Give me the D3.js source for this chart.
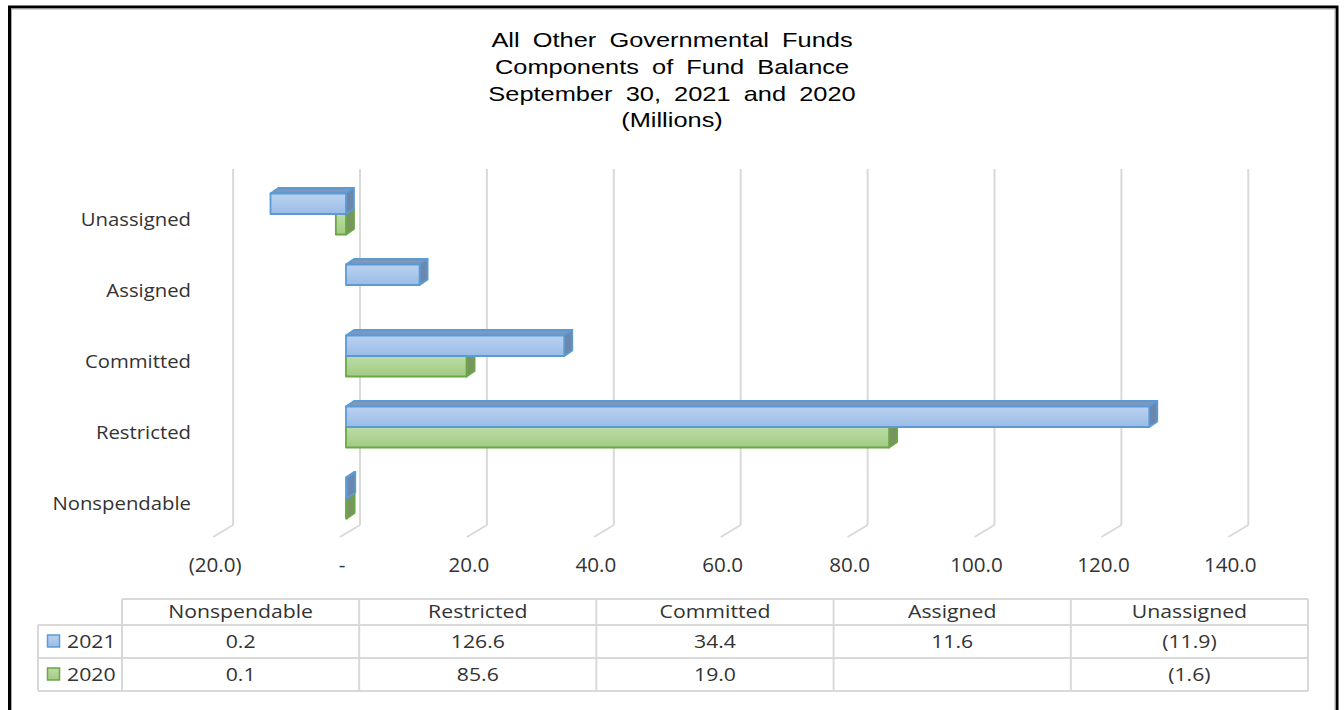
<!DOCTYPE html>
<html><head><meta charset="utf-8">
<script src="https://cdn.jsdelivr.net/npm/d3@7"></script>
<style>body{margin:0;background:#fff} svg{display:block}</style>
</head><body><svg id="c" width="1344" height="710"></svg>
<script>
const titleLines = ["All Other Governmental Funds","Components of Fund Balance","September 30, 2021 and 2020","(Millions)"];
const categories = ["Nonspendable","Restricted","Committed","Assigned","Unassigned"];
const seriesNames = ["2021","2020"];
const values2021 = [0.2,126.6,34.4,11.6,-11.9];
const values2020 = [0.1,85.6,19.0,null,-1.6];
const tickValues = [-20,0,20,40,60,80,100,120,140];

const svg = d3.select("#c");
const defs = svg.append("defs");
function grad(id, c1, c2){
  const g = defs.append("linearGradient").attr("id",id).attr("x1",0).attr("y1",0).attr("x2",0).attr("y2",1);
  g.append("stop").attr("offset","0%").attr("stop-color",c1);
  g.append("stop").attr("offset","100%").attr("stop-color",c2);
}
grad("gBlue","#bad2f0","#9bbce6");
grad("gGreen","#bcdca5","#a2ca84");
const styles = {
  "2021": {front:"url(#gBlue)", top:"#7d97bd", side:"#6c86ac", stroke:"#5b9bd5"},
  "2020": {front:"url(#gGreen)", top:"#8fae79", side:"#76955f", stroke:"#6aa842"}
};

// frame
svg.append("rect").attr("x",9.5).attr("y",7).attr("width",1327.5).attr("height",740)
  .attr("fill","none").attr("stroke","#000").attr("stroke-width",3);
svg.append("rect").attr("x",11.5).attr("y",9).attr("width",1323.5).attr("height",740)
  .attr("fill","none").attr("stroke","#aaa").attr("stroke-width",1);

function stext(parent, x, y, str, o){
  const g = parent.append("g").attr("transform",`translate(${x},${y}) scale(${o.sx||1},1)`);
  const t = g.append("text").attr("x",0).attr("y",0)
    .attr("text-anchor",o.anchor||"middle")
    .attr("font-family",o.family||"'Open Sans'")
    .attr("font-size",o.size||18)
    .attr("fill",o.fill||"#333")
    .text(str);
  if (o.ws) t.style("word-spacing",o.ws+"px");
  return t;
}

// title
titleLines.forEach((l,i)=>{
  stext(svg, 672, 47 + i*26.8, l, {family:"'Liberation Sans', Arial", size:21, sx:1.21, ws:5, fill:"#000"});
});

// scales
const x = d3.scaleLinear().domain([-20,140]).range([219.1,1234.3]);
const y = d3.scaleBand().domain(categories.slice().reverse()).range([178.5,533.5]);
const bh = 20.5, dx = 8, dy = -5.5;
const backDx = 14, frontDx = -6, wallTop = 169, wallBot = 525, floorBot = 537;

// gridlines (back wall + floor)
const grid = svg.append("g");
tickValues.forEach(v=>{
  const xb = x(v)+backDx;
  grid.append("line").attr("x1",xb).attr("x2",xb).attr("y1",wallTop).attr("y2",wallBot)
    .attr("stroke","#d9d9d9").attr("stroke-width",2);
  grid.append("line").attr("x1",xb).attr("x2",x(v)+frontDx).attr("y1",wallBot).attr("y2",floorBot)
    .attr("stroke","#d9d9d9").attr("stroke-width",2);
});

// tick labels
const fmtAxis = v => v===0 ? "-" : (v<0 ? "("+d3.format(".1f")(-v)+")" : d3.format(".1f")(v));
tickValues.forEach(v=>{
  stext(svg, x(v)-4, 572, fmtAxis(v), {size:20, sx:1.03});
});

// category labels
categories.forEach(c=>{
  const cy = y(c)+y.bandwidth()/2;
  stext(svg, 191, cy+11.5, c, {size:19, sx:1.07, anchor:"end"});
});

// bars
const bars = svg.append("g");
function drawBar(v, cy, name){
  if (v===null || v===undefined) return;
  const st = styles[name];
  const x0 = x(Math.min(0,v)), x1 = x(Math.max(0,v));
  const yt = name==="2021" ? cy-bh : cy;
  const g = bars.append("g").attr("stroke",st.stroke).attr("stroke-width",1.8).attr("stroke-linejoin","round");
  g.append("polygon").attr("points",[[x0,yt],[x0+dx,yt+dy],[x1+dx,yt+dy],[x1,yt]].map(p=>p.join(",")).join(" "))
    .attr("fill",st.top);
  g.append("polygon").attr("points",[[x1,yt],[x1+dx,yt+dy],[x1+dx,yt+bh+dy],[x1,yt+bh]].map(p=>p.join(",")).join(" "))
    .attr("fill",st.side);
  g.append("rect").attr("x",x0).attr("y",yt).attr("width",Math.max(0.5,x1-x0)).attr("height",bh)
    .attr("fill",st.front);
}
categories.forEach((c,i)=>{
  const cy = y(c)+y.bandwidth()/2;
  drawBar(values2020[i], cy, "2020");
  drawBar(values2021[i], cy, "2021");
});

// data table
const tx = d3.scaleBand().domain(categories).range([122,1308]);
const rowY = [599,625,658,691];
const tbl = svg.append("g").attr("stroke","#d9d9d9").attr("stroke-width",2);
tbl.append("line").attr("x1",122).attr("x2",1308).attr("y1",rowY[0]).attr("y2",rowY[0]);
[1,2,3].forEach(k=>tbl.append("line").attr("x1",38).attr("x2",1308).attr("y1",rowY[k]).attr("y2",rowY[k]));
tbl.append("line").attr("x1",38).attr("x2",38).attr("y1",rowY[1]).attr("y2",rowY[3]);
categories.forEach(c=>tbl.append("line").attr("x1",tx(c)).attr("x2",tx(c)).attr("y1",rowY[0]).attr("y2",rowY[3]));
tbl.append("line").attr("x1",1308).attr("x2",1308).attr("y1",rowY[0]).attr("y2",rowY[3]);

const fmtVal = v => v===null ? "" : (v<0 ? "("+d3.format(".1f")(-v)+")" : d3.format(".1f")(v));
const tsx = 1.18;
categories.forEach(c=>{
  stext(svg, tx(c)+tx.bandwidth()/2, 618, c, {size:18, sx:tsx});
});
[values2021, values2020].forEach((vals,r)=>{
  const base = r===0 ? 648 : 681;
  const top = rowY[r+1], bot = rowY[r+2];
  const name = seriesNames[r];
  const st = styles[name];
  const mid = (top+bot)/2;
  svg.append("rect").attr("x",47.5).attr("y",mid-6.5).attr("width",12).attr("height",12)
    .attr("fill",st.front).attr("stroke",st.stroke).attr("stroke-width",1.5);
  stext(svg, 67, base, name, {size:18, sx:tsx, anchor:"start"});
  vals.forEach((v,i)=>{
    const c = categories[i];
    stext(svg, tx(c)+tx.bandwidth()/2, base, fmtVal(v), {size:18, sx:tsx});
  });
});
</script>
</body></html>
